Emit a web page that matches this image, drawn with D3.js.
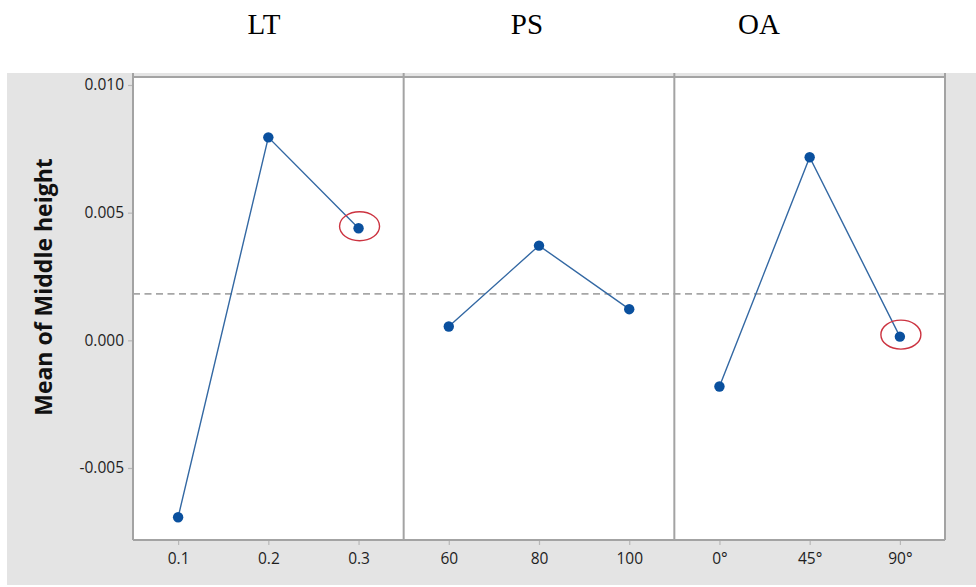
<!DOCTYPE html>
<html>
<head>
<meta charset="utf-8">
<script src="https://cdn.jsdelivr.net/npm/d3@7"></script>
<style>
  html, body { margin: 0; padding: 0; background: #ffffff; }
  svg { display: block; }
</style>
</head>
<body>
<svg id="chart" width="976" height="587"></svg>
<script>
// Main effects of the three factors on the mean middle height
const factors = ["LT", "PS", "OA"];
const ltLevels = ["0.1", "0.2", "0.3"];
const ltMeans = [-0.00693, 0.00795, 0.00439];
const psLevels = ["60", "80", "100"];
const psMeans = [0.00054, 0.00371, 0.00122];
const oaLevels = ["0°", "45°", "90°"];
const oaMeans = [-0.00181, 0.00717, 0.000145];
const yTicks = [-0.005, 0.000, 0.005, 0.010];
const yLabel = "Mean of Middle height";
// levels circled as the chosen setting of each factor
const circled = [{ factor: "LT", level: "0.3" }, { factor: "OA", level: "90°" }];

const panels = [
  { name: factors[0], levels: ltLevels, means: ltMeans },
  { name: factors[1], levels: psLevels, means: psMeans },
  { name: factors[2], levels: oaLevels, means: oaMeans }
];

const plot = { left: 133, right: 945, top: 77, bottom: 540 };
const bg = { left: 7, top: 73, right: 976, bottom: 585 };
const frameColor = "#a3a3a3";
const dotColor = "#0a509e";
const lineColor = "#3368a3";
const tickFont = "'Open Sans', sans-serif";
const tickSize = "15.5px";

const svg = d3.select("#chart");

// grey surround and white data region
svg.append("rect")
  .attr("x", bg.left).attr("y", bg.top)
  .attr("width", bg.right - bg.left).attr("height", bg.bottom - bg.top)
  .attr("fill", "#e4e4e4");
svg.append("rect")
  .attr("x", plot.left).attr("y", plot.top)
  .attr("width", plot.right - plot.left).attr("height", plot.bottom - plot.top)
  .attr("fill", "#ffffff");

const y = d3.scaleLinear()
  .domain([-0.00782, 0.010313])
  .range([plot.bottom, plot.top]);

const bands = d3.scaleBand()
  .domain(factors)
  .range([plot.left, plot.right])
  .paddingInner(0).paddingOuter(0);

// overall mean reference line
const allMeans = [].concat(ltMeans, psMeans, oaMeans);
const grandMean = d3.mean(allMeans);
svg.append("line")
  .attr("x1", plot.left).attr("x2", plot.right)
  .attr("y1", y(grandMean)).attr("y2", y(grandMean))
  .attr("stroke", "#a6a6a6")
  .attr("stroke-width", 1.6)
  .attr("stroke-dasharray", "7,4.5");

// y axis (plain hyphen for negatives)
const fmt = d3.format(".3f");
const yAxis = d3.axisLeft(y)
  .tickValues(yTicks)
  .tickFormat(d => fmt(d).replace("\u2212", "-"))
  .tickSize(5)
  .tickPadding(4);
const gy = svg.append("g")
  .attr("transform", `translate(${plot.left},0)`)
  .call(yAxis);
gy.select(".domain").remove();
gy.selectAll(".tick line").attr("stroke", "#b8b8b8").attr("stroke-width", 1.2);
gy.selectAll(".tick text")
  .attr("fill", "#1e1e1e")
  .style("font-family", tickFont)
  .style("font-size", tickSize);

// y axis title
svg.append("text")
  .attr("transform", `translate(52,${(150 + 424) / 2}) rotate(-90)`)
  .attr("text-anchor", "middle")
  .style("font-family", "'Open Sans', sans-serif")
  .style("font-weight", "bold")
  .style("font-size", "23px")
  .attr("fill", "#111")
  .text(yLabel);

// factor titles above the frame
const titleX = { LT: 264, PS: 527, OA: 759 };
svg.selectAll("text.factor")
  .data(factors)
  .enter().append("text")
  .attr("class", "factor")
  .attr("x", d => titleX[d])
  .attr("y", 34)
  .attr("text-anchor", "middle")
  .style("font-family", "'Liberation Serif', 'Times New Roman', serif")
  .style("font-size", "29px")
  .attr("fill", "#000")
  .text(d => d);

panels.forEach(p => {
  const x0 = bands(p.name);
  const x = d3.scalePoint()
    .domain(p.levels)
    .range([x0, x0 + bands.bandwidth()])
    .padding(0.5);

  const xAxis = d3.axisBottom(x).tickSize(5).tickPadding(8);
  const gx = svg.append("g")
    .attr("transform", `translate(0,${plot.bottom})`)
    .call(xAxis);
  gx.select(".domain").remove();
  gx.selectAll(".tick line").attr("stroke", "#b8b8b8").attr("stroke-width", 1.2);
  gx.selectAll(".tick text")
    .attr("fill", "#1e1e1e")
    .style("font-family", tickFont)
    .style("font-size", tickSize);

  const pts = p.levels.map((lv, i) => ({ level: lv, value: p.means[i] }));

  svg.append("path")
    .datum(pts)
    .attr("fill", "none")
    .attr("stroke", lineColor)
    .attr("stroke-width", 1.4)
    .attr("d", d3.line().x(d => x(d.level)).y(d => y(d.value)));

  svg.selectAll(null)
    .data(pts)
    .enter().append("circle")
    .attr("cx", d => x(d.level))
    .attr("cy", d => y(d.value))
    .attr("r", 5.2)
    .attr("fill", dotColor);

  circled.filter(c => c.factor === p.name).forEach(c => {
    const v = p.means[p.levels.indexOf(c.level)];
    svg.append("ellipse")
      .attr("cx", x(c.level) + 1)
      .attr("cy", y(v) - 2)
      .attr("rx", 20)
      .attr("ry", 14.5)
      .attr("fill", "none")
      .attr("stroke", "#cc3340")
      .attr("stroke-width", 1.4);
  });
});

// frame: panel separators and outer border
const frame = svg.append("g")
  .attr("stroke", frameColor)
  .attr("stroke-width", 2)
  .attr("fill", "none");
const vx = factors.map(f => bands(f)).concat([plot.right]);
frame.selectAll("line.v")
  .data(vx)
  .enter().append("line")
  .attr("x1", d => d).attr("x2", d => d)
  .attr("y1", bg.top).attr("y2", plot.bottom);
[plot.top, plot.bottom].forEach(yy => {
  frame.append("line")
    .attr("x1", plot.left).attr("x2", plot.right)
    .attr("y1", yy).attr("y2", yy);
});
</script>
</body>
</html>
